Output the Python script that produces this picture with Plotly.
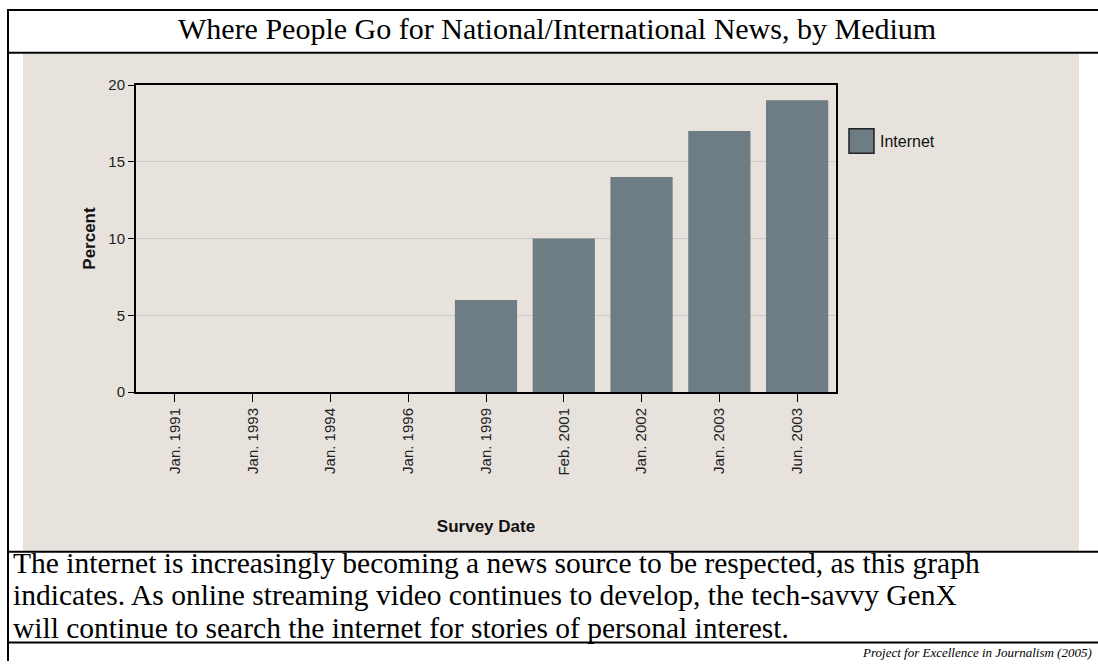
import plotly.graph_objects as go

# ---- data ----
survey_dates = ["Jan. 1991", "Jan. 1993", "Jan. 1994", "Jan. 1996", "Jan. 1999",
                "Feb. 2001", "Jan. 2002", "Jan. 2003", "Jun. 2003"]
internet_pct = [0, 0, 0, 0, 6, 10, 14, 17, 19]
series_name = "Internet"
y_ticks = [0, 5, 10, 15, 20]

title_text = "Where People Go for National/International News, by Medium"
caption_lines = [
    "The internet is increasingly becoming a news source to be respected, as this graph",
    "indicates. As online streaming video continues to develop, the tech-savvy GenX",
    "will continue to search the internet for stories of personal interest.",
]
source_text = "Project for Excellence in Journalism (2005)"

W, H = 1098, 669
BAR = "#6D7D83"


def px(x):
    return x / W


def py(y):
    return 1 - y / H


fig = go.Figure()
fig.add_trace(go.Bar(
    x=survey_dates, y=internet_pct, name=series_name,
    marker=dict(color=BAR, line=dict(width=0)),
    showlegend=False,
))

shapes = [
    # beige chart panel
    dict(type="rect", xref="paper", yref="paper", x0=px(23), x1=px(1079),
         y0=py(556), y1=py(46), fillcolor="#E7E2DC", line=dict(width=0), layer="below"),
    # table borders
    dict(type="line", xref="paper", yref="paper", x0=px(8), x1=px(8), y0=0, y1=1,
         line=dict(color="black", width=2)),
    dict(type="line", xref="paper", yref="paper", x0=px(8), x1=1, y0=py(1), y1=py(1),
         line=dict(color="black", width=2)),
    dict(type="line", xref="paper", yref="paper", x0=px(8), x1=1, y0=py(45), y1=py(45),
         line=dict(color="black", width=2)),
    dict(type="line", xref="paper", yref="paper", x0=px(8), x1=1, y0=py(557), y1=py(557),
         line=dict(color="black", width=2)),
    dict(type="line", xref="paper", yref="paper", x0=px(8), x1=1, y0=py(650), y1=py(650),
         line=dict(color="black", width=2)),
    # legend swatch
    dict(type="rect", xref="paper", yref="paper", x0=px(849), x1=px(874),
         y0=py(148), y1=py(123), fillcolor=BAR, line=dict(color="#222222", width=1.5)),
]

annotations = [
    dict(text=title_text, xref="paper", yref="paper", x=px(557), y=py(20),
         xanchor="center", yanchor="middle", showarrow=False,
         font=dict(family="Liberation Serif", size=30, color="black")),
    dict(text=series_name, xref="paper", yref="paper", x=px(878), y=py(136),
         xanchor="left", yanchor="middle", showarrow=False,
         font=dict(family="Liberation Sans", size=16, color="#111111")),
    dict(text="<i>" + source_text + "</i>", xref="paper", yref="paper", x=px(1094),
         y=py(660), xanchor="right", yanchor="middle", showarrow=False,
         font=dict(family="Liberation Serif", size=13, color="black")),
]
for i, line in enumerate(caption_lines):
    annotations.append(dict(text=line, xref="paper", yref="paper", x=px(11),
                            y=py(568 + 33.5 * i), xanchor="left", yanchor="middle",
                            showarrow=False,
                            font=dict(family="Liberation Serif", size=29.5, color="black")))

fig.update_layout(
    width=W, height=H,
    margin=dict(l=0, r=0, t=0, b=0),
    paper_bgcolor="white",
    plot_bgcolor="#ECECEC",
    bargap=0.2,
    shapes=shapes,
    annotations=annotations,
    xaxis=dict(
        domain=[px(136), px(836)],
        type="category",
        tickangle=-90,
        ticks="outside", ticklen=8, tickcolor="black", tickwidth=1,
        tickfont=dict(family="Liberation Sans", size=15, color="#222222"),
        showline=True, linecolor="black", linewidth=2, mirror=True,
        showgrid=False,
        title=dict(text="<b>Survey Date</b>", standoff=46,
                   font=dict(family="Liberation Sans", size=17, color="#111111")),
    ),
    yaxis=dict(
        domain=[py(393), py(78)],
        range=[0, 20],
        tickvals=y_ticks,
        ticks="outside", ticklen=6, tickcolor="black", tickwidth=1,
        tickfont=dict(family="Liberation Sans", size=15, color="#222222"),
        showline=True, linecolor="black", linewidth=2, mirror=True,
        showgrid=True, gridcolor="#C9C9C9", gridwidth=1,
        zeroline=False,
        title=dict(text="<b>Percent</b>", standoff=8,
                   font=dict(family="Liberation Sans", size=17, color="#111111")),
    ),
)

fig.write_html("out.html")
